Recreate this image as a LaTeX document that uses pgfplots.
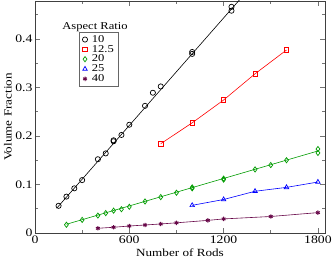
\documentclass[border=0pt]{standalone}
\usepackage{fontspec}
\setmainfont{Liberation Serif}[FakeStretch=1.2]
\usepackage{pgfplots}
\pgfplotsset{compat=1.18}
\definecolor{cgreen}{RGB}{0,155,0}
\definecolor{cmaroon}{RGB}{103,7,72}
\begin{document}
\begin{tikzpicture}
\begin{axis}[
  scale only axis, width=290bp, height=232bp,
  xmin=0, xmax=1845, ymin=0, ymax=0.478,
  xtick={0,600,1200,1800}, xticklabels={0,600,1200,1800},
  minor xtick={300,900,1500},
  ytick={0,0.1,0.2,0.3,0.4}, yticklabels={0,0.1,0.2,0.3,0.4},
  minor ytick={0.05,0.15,0.25,0.35,0.45},
  tick align=inside, major tick length=5bp, minor tick length=3bp,
  tick style={black!55, line width=0.7pt},
  axis line style={black!75, line width=0.6pt},
  /pgf/number format/assume math mode=true,
  ticklabel style={font=\fontsize{11.5}{12}\selectfont},
  yticklabel style={xshift=1bp},
  xticklabel style={yshift=1bp},
  xlabel={Number of Rods}, ylabel={Volume Fraction},
  label style={font=\fontsize{11}{12}\selectfont},
  xlabel style={at={(axis description cs:0.5,0)}, anchor=base, yshift=-23bp},
  ylabel style={at={(axis description cs:0,0.5)}, anchor=center, yshift=27bp},
  legend style={at={(rel axis cs:0.152,0.866)}, anchor=north west, draw=black!60,
    line width=0.5pt, font=\fontsize{10.5}{11}\selectfont, inner xsep=2bp, inner ysep=1bp,
    row sep=-2.6bp, cells={anchor=west}},
  legend image code/.code={\path[draw=none,fill=none] (0cm,-0.05cm) rectangle (0.3cm,0.05cm); \draw[#1] plot coordinates {(0.13cm,0cm)};},
]
% fit / connecting lines
\addplot[black, line width=0.6pt, forget plot] coordinates {(138,0.051) (1300,0.480)};
\addplot[red, line width=0.6pt, forget plot] coordinates {(800,0.184) (1000,0.227) (1200,0.274) (1400,0.328) (1600,0.377)};
\addplot[cgreen, line width=0.6pt, forget plot] coordinates {(200,0.018) (1800,0.169)};
\addplot[blue, line width=0.6pt, forget plot] coordinates {(1000,0.057) (1200,0.069) (1400,0.086) (1600,0.094) (1800,0.105)};
\addplot[cmaroon, line width=0.6pt, forget plot] coordinates {(400,0.0097) (500,0.0118) (600,0.0144) (700,0.0165) (800,0.0186) (900,0.021) (1100,0.026) (1200,0.029) (1500,0.034) (1800,0.042)};
% markers
\addplot[only marks, black, mark=o, mark size=2.6bp, mark options={line width=0.7pt}] coordinates {
(150,0.056) (200,0.075) (250,0.092) (300,0.109) (400,0.152) (450,0.164) (500,0.189) (500,0.191) (550,0.202) (600,0.223) (700,0.262) (750,0.289) (800,0.302) (1000,0.369) (1000,0.373) (1250,0.458) (1250,0.466)};
\addlegendentry{10}
\addplot[only marks, red, mark=square, mark size=2.2bp, mark options={line width=0.7pt}] coordinates {
(800,0.184) (1000,0.227) (1200,0.274) (1400,0.328) (1600,0.377)};
\addlegendentry{12.5}
\addplot[only marks, cgreen, mark=diamond, mark size=2.6bp, mark options={line width=0.7pt}] coordinates {
(200,0.017) (300,0.027) (400,0.036) (450,0.041) (500,0.046) (550,0.049) (600,0.054) (700,0.065) (800,0.074) (900,0.083) (1000,0.092) (1000,0.094) (1200,0.110) (1200,0.112) (1400,0.131) (1500,0.140) (1600,0.150) (1800,0.165) (1800,0.173)};
\addlegendentry{20}
\addplot[only marks, blue, mark=triangle, mark size=2.6bp, mark options={line width=0.7pt}] coordinates {
(1000,0.057) (1200,0.069) (1400,0.086) (1600,0.094) (1800,0.105)};
\addlegendentry{25}
\addplot[only marks, cmaroon, mark=asterisk, mark size=2.2bp, mark options={line width=1pt}] coordinates {
(400,0.0097) (500,0.0118) (600,0.0144) (700,0.0165) (800,0.0186) (900,0.021) (1100,0.026) (1200,0.029) (1500,0.034) (1800,0.042)};
\addlegendentry{40}
\node[font=\fontsize{10.5}{11}\selectfont] at (rel axis cs:0.207,0.888) {Aspect Ratio};
\end{axis}
\pgfresetboundingbox
\path (current axis.south west) ++(-35bp,-25bp) rectangle ++(332bp,258bp);
\end{tikzpicture}
\end{document}
